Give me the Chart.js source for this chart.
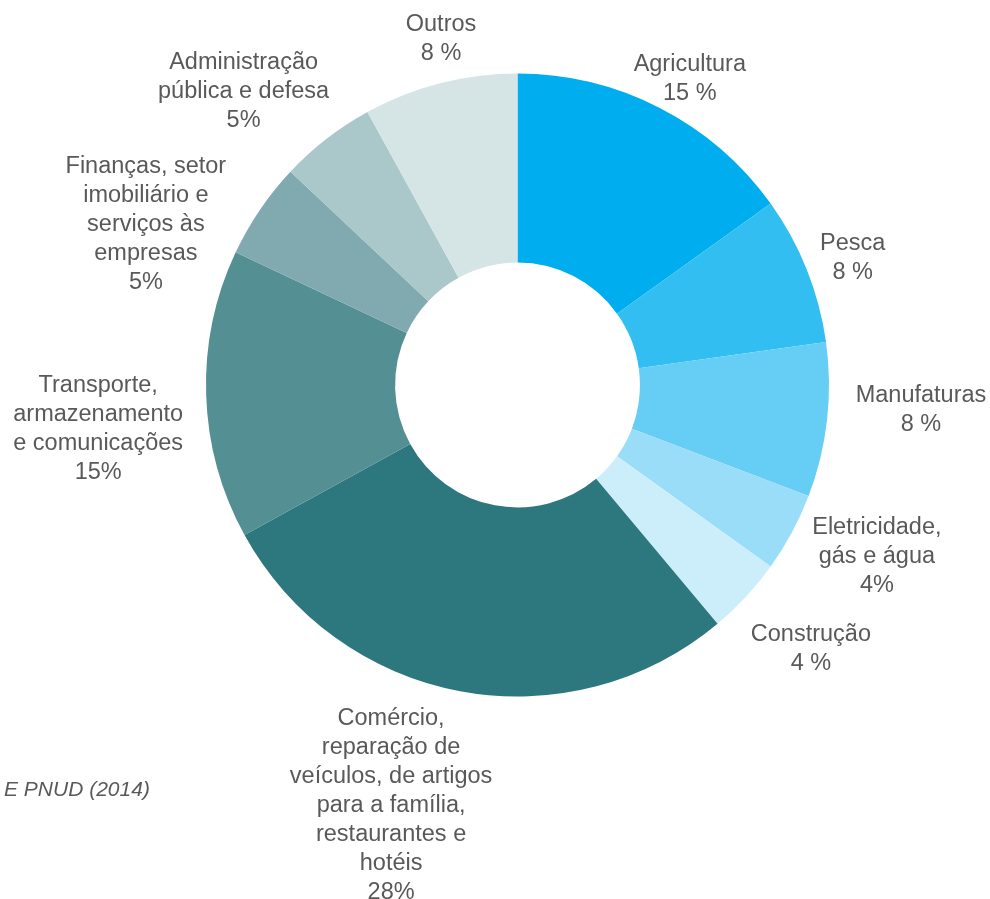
<!DOCTYPE html>
<html>
<head>
<meta charset="utf-8">
<script src="https://cdn.jsdelivr.net/npm/chart.js@4"></script>
<style>
html,body{margin:0;padding:0;background:#fff;}
#wrap{position:relative;width:990px;height:899px;}
#source{position:absolute;left:4px;top:777px;font:italic 21px "Liberation Sans",Arial,sans-serif;color:#595959;white-space:nowrap;}
</style>
</head>
<body>
<div id="wrap">
<canvas id="c" width="990" height="899"></canvas>
<div id="source">E PNUD (2014)</div>
</div>
<script>
// ---- data ----
const categories = [
  ["Agricultura"],
  ["Pesca"],
  ["Manufaturas"],
  ["Eletricidade,", "gás e água"],
  ["Construção"],
  ["Comércio,", "reparação de", "veículos, de artigos", "para a família,", "restaurantes e", "hotéis"],
  ["Transporte,", "armazenamento", "e comunicações"],
  ["Finanças, setor", "imobiliário e", "serviços às", "empresas"],
  ["Administração", "pública e defesa"],
  ["Outros"]
];
const values = [15.1, 7.7, 8, 4.1, 4, 28.1, 15, 5, 5, 8];
const valueLabels = ["15 %", "8 %", "8 %", "4%", "4 %", "28%", "15%", "5%", "5%", "8 %"];
const colors = ["#00AEEF", "#33BEF2", "#66CDF5", "#9ADDF8", "#CCEEFB",
                "#2D777E", "#548F94", "#80AAAF", "#AAC7CA", "#D5E4E5"];

// label offsets from the arc's outer mid point (layout only)
const labelOffsets = [[30,-29],[46,-11],[94,-10],[85,24],[65,52],[-69,114],[-108,34],[-114,15],[-83,-47],[1,-44]];

const labelPlugin = {
  id: 'outerLabels',
  afterDatasetsDraw(chart) {
    const ctx = chart.ctx;
    const meta = chart.getDatasetMeta(0);
    ctx.save();
    ctx.font = '23.5px "Liberation Sans", Arial, sans-serif';
    ctx.fillStyle = '#595959';
    ctx.textAlign = 'center';
    ctx.textBaseline = 'middle';
    const lh = 29;
    meta.data.forEach((arc, i) => {
      const p = arc.getProps(['x','y','startAngle','endAngle','outerRadius'], true);
      const mid = (p.startAngle + p.endAngle) / 2;
      const ax = p.x + Math.cos(mid) * p.outerRadius;
      const ay = p.y + Math.sin(mid) * p.outerRadius;
      const lines = categories[i].concat([valueLabels[i]]);
      const cx = ax + labelOffsets[i][0];
      const cy = ay + labelOffsets[i][1];
      const top = cy - (lines.length - 1) * lh / 2;
      lines.forEach((t, k) => ctx.fillText(t, cx, top + k * lh));
    });
    ctx.restore();
  }
};

new Chart(document.getElementById('c'), {
  type: 'doughnut',
  data: {
    labels: categories.map(c => c.join(' ')),
    datasets: [{
      data: values,
      backgroundColor: colors,
      borderWidth: 0
    }]
  },
  options: {
    responsive: false,
    animation: false,
    cutout: '39.3%',
    layout: { padding: { left: 206, right: 161, top: 73, bottom: 202 } },
    plugins: { legend: { display: false }, tooltip: { enabled: false } }
  },
  plugins: [labelPlugin]
});
</script>
</body>
</html>
